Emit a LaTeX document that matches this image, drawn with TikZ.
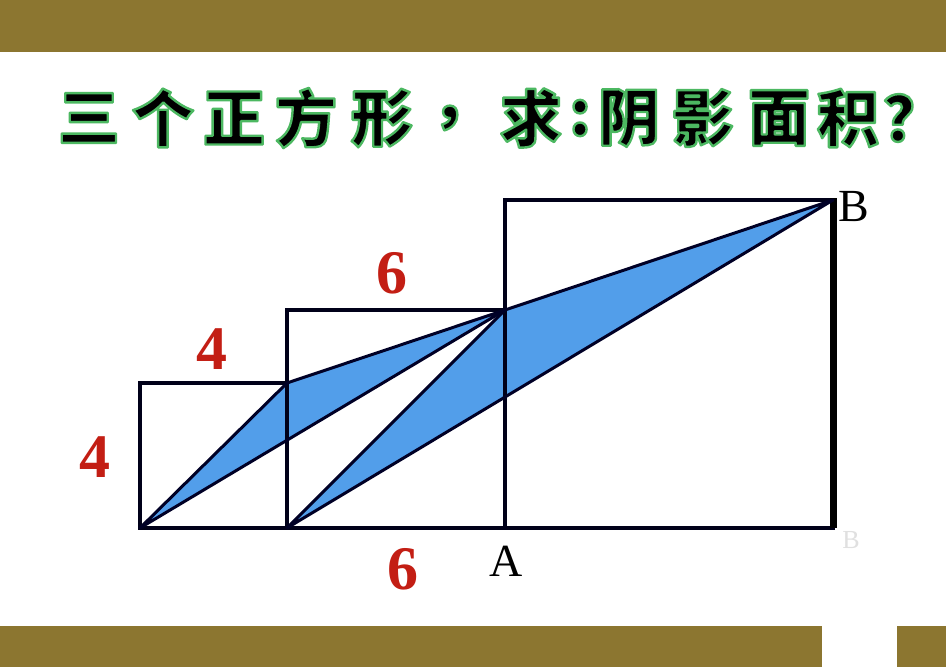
\documentclass[tikz,border=0pt]{standalone}
\usepackage{fontspec}
\newfontfamily\cjk{Noto Sans CJK SC}[BoldFont={Noto Sans CJK SC Black}]
\newfontfamily\serifnum{Liberation Serif}
\definecolor{band}{RGB}{140,118,48}
\definecolor{bluefill}{RGB}{82,158,234}
\definecolor{numred}{RGB}{195,30,20}
\newcommand\glowtext[1]{\special{pdf:literal direct 2 Tr 2.4 w 1 j 0.30 0.72 0.38 RG}#1\special{pdf:literal direct 0 Tr}}
\tikzset{
  sq/.style={draw=black!90!blue, line width=3.6pt},
  diag/.style={draw=black!85!blue, line width=3pt, line join=round},
  num/.style={text=numred, font=\serifnum\bfseries\fontsize{62}{62}\selectfont, inner sep=0pt},
  pt/.style={text=black, font=\serifnum\fontsize{46}{46}\selectfont, inner sep=0pt},
  ttl/.style={font=\cjk\bfseries\fontsize{62}{62}\selectfont, inner sep=0pt, anchor=center, text=black}
}
\begin{document}
\begin{tikzpicture}[x=1pt,y=-1pt]
\useasboundingbox (0,0) rectangle (946,667);
\fill[white] (0,0) rectangle (946,667);
\fill[band] (0,0) rectangle (946,52);
\fill[band] (0,626) rectangle (946,667);
\fill[white] (822,622) rectangle (897,667);
% title
\foreach \c/\x/\n in {三/89/a,个/163/b,正/234/c,方/306/d,形/382/e,，/462/f,求/531/g,:/580/h,阴/629/i,影/703/j,面/779/k,积/848/l,？/914/m}{
  \node[ttl] (t\n) at (\x,118) {\glowtext{\c}};
}
% points
\coordinate (O1) at (140,528);
\coordinate (P1) at (287,383);
\coordinate (O2) at (287,528);
\coordinate (P2) at (505,310);
\coordinate (O3) at (505,528);
\coordinate (B) at (833,200);
\coordinate (BR) at (833,528);
% shading
\fill[bluefill] (O1) -- (P1) -- (P2) -- cycle;
\fill[bluefill] (O2) -- (P2) -- (B) -- cycle;
% squares
\draw[sq] (O1) rectangle (P1);
\draw[sq] (O2) rectangle (P2);
\draw[sq] (O3) rectangle (B);
\draw[line width=7pt] (833,198) -- (BR);
% diagonals
\draw[diag] (O1) -- (P1) -- (P2) -- cycle;
\draw[diag] (O2) -- (P2) -- (B) -- cycle;
% labels
\node[num] (l4a) at (95,457) {4};
\node[num] (l4b) at (212,349) {4};
\node[num] (l6a) at (392,273) {6};
\node[num] (l6b) at (403,569) {6};
\node[pt] (lA) at (506,561) {A};
\node[pt] (lB) at (854,207) {B};
\node[pt, text=black!12, font=\serifnum\fontsize{26}{26}\selectfont] (lB2) at (851,540) {B};
\end{tikzpicture}
\end{document}
